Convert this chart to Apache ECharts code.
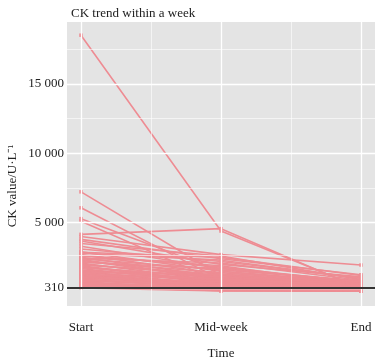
<!DOCTYPE html>
<html>
<head>
<meta charset="utf-8">
<script src="https://cdn.jsdelivr.net/npm/echarts@6/dist/echarts.min.js"></script>
<style>
  html, body { margin: 0; padding: 0; background: #fff; }
  #main { width: 385px; height: 358px; }
</style>
</head>
<body>
<div id="main"></div>
<script>
// categories and tick labels
var timeCats = ['Start', 'Mid-week', 'End'];
var yTicks = [310, 5000, 10000, 15000];
var yTickLabels = ['310', '5 000', '10 000', '15 000'];
var refLine = 310;

// one entry per patient: value at start, mid-week, end
var startVals = [18500, 4160, 7220, 6070, 5290, 5110, 4000, 3800, 3680, 3500,
                 3300, 3100, 2900, 2870, 2700, 2600, 2500, 2400, 2300, 2200,
                 2100, 2000, 1900, 1800, 1700, 1600, 1500, 1400, 1300, 1200,
                 1100, 1000, 900, 800, 700, 600, 500, 400, 350, 300,
                 2800, 2650, 2450, 2350, 2150, 1950, 1850, 1750, 1550, 1450,
                 1350, 1250, 1150, 1050, 950, 850, 750, 650, 550, 450];
var midVals   = [4400, 4570, 1200, 900, 1500, 700, 2700, 2400, 2000, 2600,
                 1700, 2200, 1500, 2500, 1300, 1900, 1100, 1600, 900, 1400,
                 800, 1200, 700, 1000, 600, 900, 500, 800, 400, 650,
                 350, 550, 300, 450, 250, 200, 150, 100, 120, 80,
                 2300, 1800, 2100, 1000, 1700, 1300, 600, 1100, 850, 1250,
                 500, 950, 450, 750, 300, 600, 200, 350, 150, 250];
var endVals   = [300, 250, 400, 300, 600, 350, 1950, 1250, 1100, 900,
                 800, 1000, 700, 1200, 600, 500, 450, 800, 400, 650,
                 300, 550, 350, 500, 250, 400, 200, 350, 150, 300,
                 200, 250, 150, 200, 100, 150, 100, 80, 100, 60,
                 1000, 700, 850, 450, 750, 550, 300, 600, 400, 500,
                 250, 450, 200, 350, 150, 300, 120, 200, 100, 150];

var lineColor = '#ee8c93';
var serif = 'Liberation Serif';

var myChart = echarts.init(document.getElementById('main'));

var series = [];
// background grid lines (ggplot style)
series.push({
    type: 'line',
    data: [],
    silent: true,
    z: 1,
    markLine: {
        silent: true,
        symbol: 'none',
        label: { show: false },
        animation: false,
        data: [
            { yAxis: 2655, lineStyle: { width: 0.6 } },
            { yAxis: 7500, lineStyle: { width: 0.6 } },
            { yAxis: 12500, lineStyle: { width: 0.6 } },
            { yAxis: 17500, lineStyle: { width: 0.6 } },
            { xAxis: 0.5, lineStyle: { width: 0.6 } },
            { xAxis: 1.5, lineStyle: { width: 0.6 } }
        ].concat(yTicks.map(function (v) { return { yAxis: v, lineStyle: { width: 1.3 } }; }))
         .concat([0, 1, 2].map(function (v) { return { xAxis: v, lineStyle: { width: 1.3 } }; })),
        lineStyle: { color: '#ffffff', type: 'solid' }
    }
});

for (var i = 0; i < startVals.length; i++) {
    series.push({
        type: 'line',
        z: 2,
        data: [[0, startVals[i]], [1, midVals[i]], [2, endVals[i]]],
        symbol: 'rect',
        symbolSize: 3.5,
        lineStyle: { color: lineColor, width: 1.6 },
        itemStyle: { color: lineColor },
        animation: false
    });
}

// black reference line
series.push({
    type: 'line',
    data: [],
    z: 5,
    markLine: {
        silent: true,
        symbol: 'none',
        label: { show: false },
        animation: false,
        data: [{ yAxis: refLine }],
        lineStyle: { color: '#333333', type: 'solid', width: 1.8 }
    }
});

var option = {
    animation: false,
    title: {
        text: 'CK trend within a week',
        left: 66,
        top: 2,
        textStyle: { fontFamily: serif, fontSize: 13, fontWeight: 'normal', color: '#222' }
    },
    grid: {
        left: 67, right: 10, top: 22, bottom: 52,
        outerBoundsMode: 'none',
        containLabel: false,
        show: true, backgroundColor: '#e4e4e4', borderWidth: 0
    },
    xAxis: {
        type: 'value',
        min: -0.1,
        max: 2.1,
        name: 'Time',
        nameLocation: 'middle',
        nameGap: 41,
        nameTextStyle: { fontFamily: serif, fontSize: 13, color: '#222' },
        axisLine: { show: false },
        splitLine: { show: false },
        axisTick: {
            show: true, customValues: [0, 1, 2], length: 3,
            lineStyle: { color: '#333' }
        },
        axisLabel: {
            customValues: [0, 1, 2],
            margin: 15,
            fontFamily: serif, fontSize: 13, color: '#222',
            formatter: function (v) { return timeCats[Math.round(v)]; }
        }
    },
    yAxis: {
        type: 'value',
        min: -1000,
        max: 19450,
        axisLine: { show: false },
        splitLine: { show: false },
        axisTick: {
            show: true, customValues: yTicks, length: 2,
            lineStyle: { color: '#333' }
        },
        axisLabel: {
            customValues: yTicks,
            margin: 3,
            fontFamily: serif, fontSize: 13, color: '#222',
            formatter: function (v) {
                var k = yTicks.indexOf(v);
                return k >= 0 ? yTickLabels[k] : '';
            }
        }
    },
    graphic: [{
        type: 'text',
        x: 13,
        y: 186,
        rotation: Math.PI / 2,
        style: {
            text: 'CK value/U·L⁻¹',
            fontFamily: serif,
            fontSize: 13,
            fill: '#222',
            textAlign: 'center',
            textVerticalAlign: 'middle'
        }
    }],
    series: series
};

myChart.setOption(option);
</script>
</body>
</html>
